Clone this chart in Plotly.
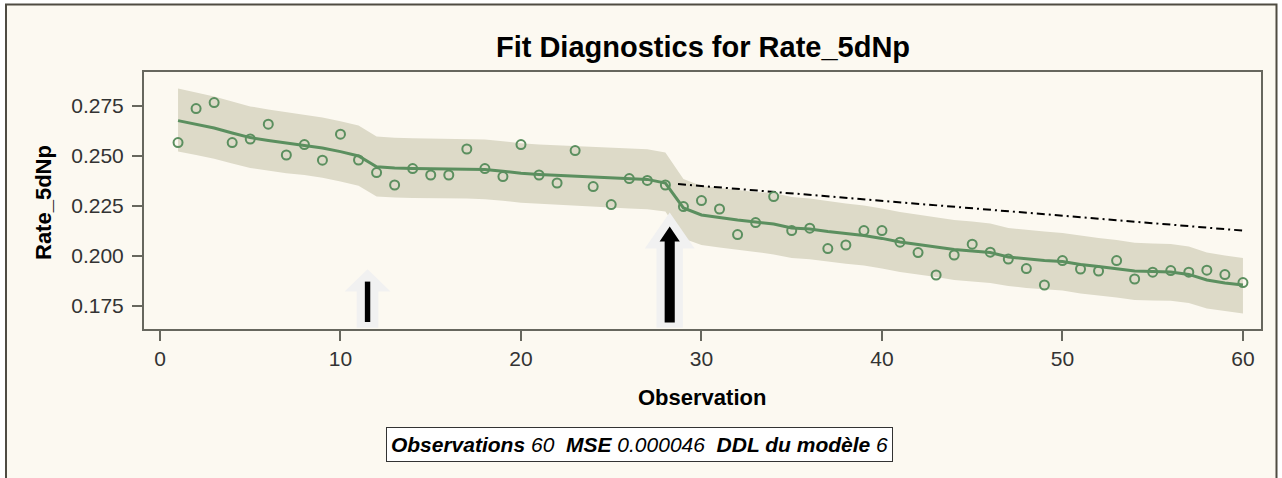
import plotly.graph_objects as go

# ---------------- data ----------------
obs = list(range(1, 61))
rate = [0.2567, 0.2737, 0.2767, 0.2567, 0.2585, 0.2659, 0.2505, 0.2557, 0.2479, 0.2609,
        0.2480, 0.2417, 0.2355, 0.2437, 0.2405, 0.2405, 0.2535, 0.2437, 0.2397, 0.2557,
        0.2405, 0.2365, 0.2527, 0.2347, 0.2257, 0.2387, 0.2378, 0.2355, 0.2247, 0.2277,
        0.2235, 0.2107, 0.2167, 0.2297, 0.2127, 0.2139, 0.2037, 0.2055, 0.2127, 0.2127,
        0.2069, 0.2017, 0.1905, 0.2005, 0.2059, 0.2019, 0.1985, 0.1937, 0.1855, 0.1977,
        0.1935, 0.1925, 0.1977, 0.1885, 0.1919, 0.1927, 0.1919, 0.1929, 0.1907, 0.1867]
fit = [0.2677, 0.2660, 0.2640, 0.2615, 0.2592, 0.2578, 0.2565, 0.2555, 0.2540, 0.2522,
       0.2500, 0.2446, 0.2440, 0.2438, 0.2437, 0.2436, 0.2436, 0.2432, 0.2424, 0.2414,
       0.2408, 0.2404, 0.2400, 0.2396, 0.2391, 0.2387, 0.2383, 0.2365, 0.2240, 0.2205,
       0.2192, 0.2180, 0.2170, 0.2160, 0.2140, 0.2135, 0.2122, 0.2112, 0.2102, 0.2088,
       0.2070, 0.2057, 0.2045, 0.2033, 0.2025, 0.2017, 0.1995, 0.1985, 0.1978, 0.1972,
       0.1958, 0.1948, 0.1938, 0.1925, 0.1922, 0.1920, 0.1908, 0.1880, 0.1865, 0.1855]
upper = [0.2838, 0.2819, 0.2798, 0.2772, 0.2748, 0.2733, 0.2719, 0.2708, 0.2692, 0.2674,
         0.2653, 0.2598, 0.2591, 0.2589, 0.2587, 0.2586, 0.2586, 0.2582, 0.2574, 0.2564,
         0.2558, 0.2554, 0.2550, 0.2546, 0.2541, 0.2537, 0.2534, 0.2518, 0.2385, 0.2350,
         0.2340, 0.2330, 0.2320, 0.2315, 0.2295, 0.2287, 0.2274, 0.2263, 0.2252, 0.2238,
         0.2220, 0.2207, 0.2195, 0.2180, 0.2172, 0.2163, 0.2140, 0.2130, 0.2122, 0.2115,
         0.2101, 0.2090, 0.2080, 0.2066, 0.2063, 0.2060, 0.2047, 0.2018, 0.2002, 0.1990]
lower = [0.2522, 0.2505, 0.2486, 0.2462, 0.2440, 0.2426, 0.2414, 0.2405, 0.2391, 0.2373,
         0.2351, 0.2298, 0.2292, 0.2290, 0.2289, 0.2288, 0.2288, 0.2284, 0.2276, 0.2266,
         0.2260, 0.2256, 0.2252, 0.2248, 0.2243, 0.2238, 0.2234, 0.2222, 0.2088, 0.2055,
         0.2043, 0.2030, 0.2020, 0.2008, 0.1990, 0.1984, 0.1971, 0.1961, 0.1952, 0.1938,
         0.1920, 0.1907, 0.1895, 0.1880, 0.1872, 0.1865, 0.1850, 0.1840, 0.1833, 0.1827,
         0.1813, 0.1803, 0.1793, 0.1780, 0.1778, 0.1776, 0.1765, 0.1738, 0.1725, 0.1713]
trend_x = [28.7, 60.0]
trend_y = [0.2360, 0.2127]
x_ticks = [0, 10, 20, 30, 40, 50, 60]
y_ticks = [0.175, 0.200, 0.225, 0.250, 0.275]
y_tick_labels = ["0.175", "0.200", "0.225", "0.250", "0.275"]
arrow_obs = [11.5, 28.24]

title_text = "Fit Diagnostics for Rate_5dNp"
x_title = "Observation"
y_title = "Rate_5dNp"
footnote = ("<b><i>Observations</i></b><i> 60\u00a0\u00a0</i>"
            "<b><i>MSE</i></b><i> 0.000046\u00a0\u00a0</i>"
            "<b><i>DDL du modèle</i></b><i> 6</i>")

# ---------------- layout geometry ----------------
W, H = 1282, 478
L, R, T, B = 144, 1261, 72, 329
X_RANGE = [-0.886, 61.0]
Y_RANGE = [0.1635, 0.292]


def px(xp):
    return (xp - L) / (R - L)


def py(yp):
    return (B - yp) / (B - T)


GREEN = "#5b8f5f"
BAND = "#dddac8"
FRAME = "#67675e"
CREAM = "#fcf9f1"
FONT = "Liberation Sans"

fig = go.Figure()

# confidence band
fig.add_trace(go.Scatter(
    x=obs + obs[::-1], y=upper + lower[::-1], fill="toself", fillcolor=BAND,
    line=dict(width=0), mode="lines", hoverinfo="skip", showlegend=False))
# projected trend
fig.add_trace(go.Scatter(
    x=trend_x, y=trend_y, mode="lines",
    line=dict(color="black", width=2, dash="8px,4px,2px,4px"), showlegend=False))
# fit line
fig.add_trace(go.Scatter(
    x=obs, y=fit, mode="lines", line=dict(color=GREEN, width=3), showlegend=False))
# observations
fig.add_trace(go.Scatter(
    x=obs, y=rate, mode="markers",
    marker=dict(symbol="circle-open", size=9, color=GREEN, line=dict(width=2, color=GREEN)),
    showlegend=False))

shapes = []
# outer frame (cream panel)
shapes.append(dict(type="rect", xref="paper", yref="paper", layer="below",
                   x0=px(6), x1=px(1276.5), y0=py(500), y1=py(4.5),
                   fillcolor=CREAM, line=dict(color="#4f4c42", width=2)))


def arrow_path(cx, tip, base, bottom, head_half, shaft_half):
    return (f"M {cx - shaft_half} {bottom} L {cx - shaft_half} {base} "
            f"L {cx - head_half} {base} L {cx} {tip} L {cx + head_half} {base} "
            f"L {cx + shaft_half} {base} L {cx + shaft_half} {bottom} Z")


a1, a2 = arrow_obs
# arrow 1 (light outline + thin black shaft)
shapes.append(dict(type="path", xref="x", yref="y", layer="above",
                   path=arrow_path(a1, 0.1934, 0.1822, 0.1641, 1.27, 0.60),
                   fillcolor="#f1f1f1", line=dict(width=0)))
shapes.append(dict(type="rect", xref="x", yref="y", layer="above",
                   x0=a1 - 0.15, x1=a1 + 0.15, y0=0.1670, y1=0.1872,
                   fillcolor="black", line=dict(width=0)))
# arrow 2
shapes.append(dict(type="path", xref="x", yref="y", layer="above",
                   path=arrow_path(a2, 0.2218, 0.2038, 0.1641, 1.38, 0.73),
                   fillcolor="#f1f1f1", line=dict(width=0)))
shapes.append(dict(type="path", xref="x", yref="y", layer="above",
                   path=arrow_path(a2, 0.2147, 0.2072, 0.1667, 0.56, 0.28),
                   fillcolor="black", line=dict(width=0)))

annotations = [
    dict(text=f"<b>{x_title}</b>", xref="paper", yref="paper", x=px(702), y=py(397),
         showarrow=False, font=dict(family=FONT, size=22, color="black"),
         xanchor="center", yanchor="middle"),
    dict(text=f"<b>{y_title}</b>", xref="paper", yref="paper", x=px(43), y=py(203),
         showarrow=False, textangle=-90, font=dict(family=FONT, size=22, color="black"),
         xanchor="center", yanchor="middle"),
    dict(text=footnote, xref="paper", yref="paper", x=px(639.5), y=py(444),
         showarrow=False, font=dict(family=FONT, size=21, color="black"),
         xanchor="center", yanchor="middle", bgcolor="white",
         bordercolor="#333333", borderwidth=1, borderpad=1, width=503, height=31),
]

axis_common = dict(showgrid=False, zeroline=False, showline=True, linewidth=2,
                   linecolor=FRAME, mirror=True, ticks="outside", ticklen=10,
                   tickwidth=2, tickcolor=FRAME,
                   tickfont=dict(family=FONT, size=21, color="#333333"))

fig.update_layout(
    width=W, height=H,
    margin=dict(l=L, r=W - R, t=T, b=H - B, autoexpand=False),
    paper_bgcolor="white", plot_bgcolor="white",
    title=dict(text=f"<b>{title_text}</b>", x=px(703), xref="paper", xanchor="center",
               y=1 - 47 / H, yref="container", yanchor="middle",
               font=dict(family=FONT, size=29, color="black")),
    xaxis=dict(range=X_RANGE, tickvals=x_ticks, **axis_common),
    yaxis=dict(range=Y_RANGE, tickvals=y_ticks, ticktext=y_tick_labels,
               ticklabelstandoff=4, **axis_common),
    shapes=shapes, annotations=annotations, showlegend=False,
)

fig.write_html("out.html")
